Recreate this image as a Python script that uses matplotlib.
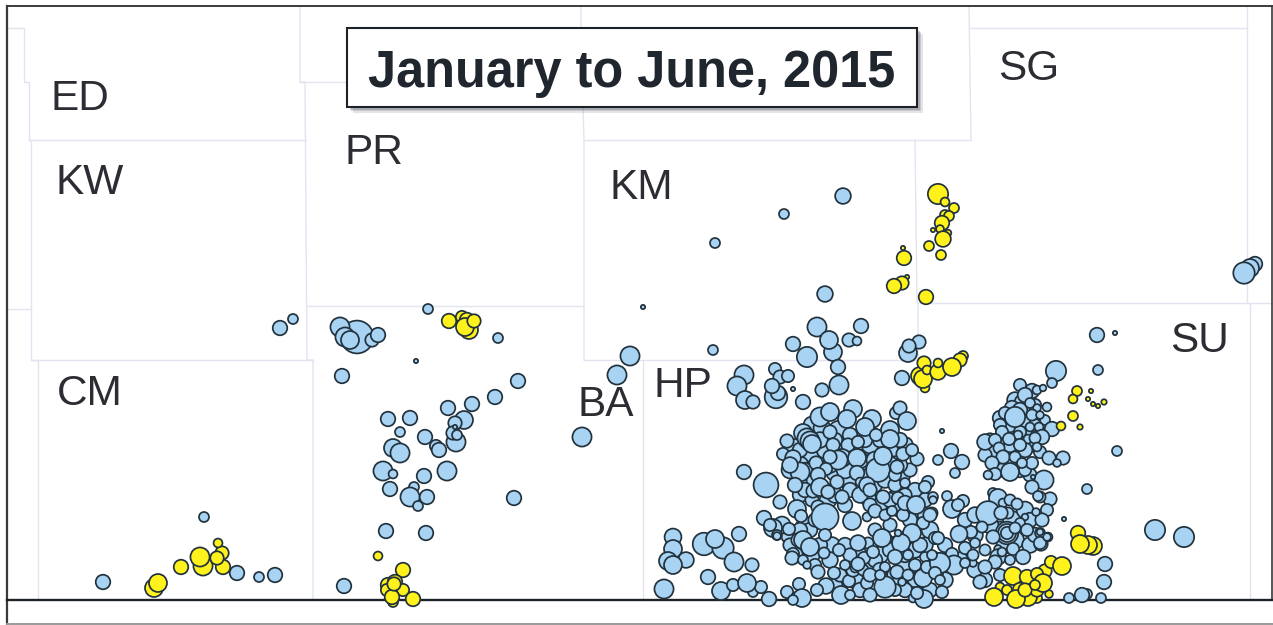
#!/usr/bin/env python3
# Bubble map of events by county, January to June 2015.
# Positions are in map units, y counts down from the top.

import matplotlib
matplotlib.use("Agg")
from matplotlib import pyplot as plt
from matplotlib import patheffects as pe
from matplotlib.patches import Rectangle

import numpy as np

plt.rcParams["font.family"] = ["Liberation Sans", "DejaVu Sans"]

TITLE = "January to June, 2015"

county_names = ["ED", "KW", "PR", "KM", "SG", "CM", "HP", "BA", "SU"]
county_x = [80, 90, 374, 641, 1029, 90, 683, 606, 1199]
county_y = [110, 194, 164, 199, 80, 405, 397, 416, 352]

# county boundaries, (x list, y list)
county_lines = [
    ([7, 24, 24, 29, 29, 31, 31, 38, 38], [28, 28, 82, 82, 140, 140, 360, 360, 600]),
    ([7, 31], [309, 309]),
    ([29, 306], [140, 140]),
    ([300, 300, 305, 307, 313, 313], [7, 82, 82, 360, 360, 600]),
    ([300, 347], [82, 82]),
    ([31, 313], [360, 360]),
    ([307, 584], [306, 306]),
    ([581, 581, 583, 584, 584], [7, 82, 108, 140, 360]),
    ([584, 971], [140, 140]),
    ([584, 917], [360, 360]),
    ([643, 643], [360, 600]),
    ([969, 971], [7, 140]),
    ([915, 917, 918, 918], [140, 303, 303, 600]),
    ([918, 1272], [303, 303]),
    ([969, 1247], [28, 28]),
    ([1247, 1247, 1250, 1250], [7, 303, 303, 600]),
]

blue_x = [
    795, 790, 812, 822, 838, 852, 868, 882, 894, 905,
    812, 822, 835, 848, 862, 872, 888, 902, 806, 800,
    828, 845, 868, 880, 895, 910, 910, 925, 845, 870,
    790, 782, 805, 795, 812, 832, 830, 845, 855, 870,
    880, 895, 905, 915, 925, 885, 895, 905, 915, 935,
    930, 945, 948, 945, 960, 975, 985, 965, 975, 1000,
    1012, 1025, 1015, 1030, 1005, 990, 1000, 975, 1030, 1035,
    1015, 1022, 1028, 1005, 1000, 995, 985, 1010, 1020, 1030,
    1040, 1010, 1025, 1015, 1002, 1035, 1020, 1045, 1030, 990,
    810, 800, 825, 845, 860, 870, 880, 895, 900, 835,
    820, 850, 865, 855, 830, 815, 835, 850, 860, 875,
    885, 895, 825, 805, 800, 875, 900, 890, 812, 805,
    885, 875, 890, 910, 920, 905, 890, 875, 860, 880,
    900, 915, 930, 905, 895, 860, 845, 835, 850, 840,
    810, 800, 815, 790, 820, 815, 925, 900, 890, 870,
    1025, 1035, 1010, 1020, 1000, 1010, 1025, 1040, 1000, 1025,
    280, 293, 204, 103, 237, 259, 275, 428, 357, 340,
    372, 345, 350, 378, 498, 416, 342, 630, 617, 518,
    495, 472, 448, 388, 410, 464, 456, 455, 400, 453,
    425, 457, 455, 436, 439, 393, 400, 447, 383, 393,
    424, 582, 390, 414, 410, 427, 418, 514, 386, 426,
    344, 843, 784, 715, 825, 643, 1255, 1250, 1244, 817,
    861, 793, 833, 829, 849, 857, 807, 838, 713, 919,
    908, 909, 902, 744, 737, 745, 753, 775, 780, 788,
    776, 778, 772, 793, 803, 822, 839, 820, 830, 853,
    847, 872, 865, 896, 900, 907, 890, 890, 876, 830,
    803, 807, 810, 812, 787, 783, 848, 858, 833, 842,
    838, 830, 857, 878, 883, 903, 917, 912, 793, 800,
    790, 816, 826, 818, 795, 813, 837, 857, 860, 842,
    820, 828, 867, 870, 883, 895, 897, 905, 928, 915,
    925, 905, 898, 933, 780, 766, 764, 744, 773, 777,
    797, 801, 818, 825, 852, 867, 875, 885, 892, 903,
    905, 916, 932, 923, 912, 882, 901, 868, 858, 898,
    935, 770, 789, 777, 825, 798, 803, 810, 793, 792,
    803, 807, 824, 839, 818, 834, 849, 853, 863, 864,
    855, 858, 873, 867, 885, 870, 841, 850, 826, 817,
    799, 787, 797, 802, 770, 897, 908, 915, 925, 937,
    923, 913, 924, 917, 902, 895, 885, 927, 908, 845,
    870, 880, 673, 673, 668, 686, 673, 664, 704, 723,
    715, 734, 739, 708, 721, 733, 753, 761, 747, 752,
    769, 793, 1097, 1115, 1098, 1056, 1052, 1117, 1087, 1064,
    1155, 1184, 1105, 1104, 1101, 1069, 1087, 1082, 942, 951,
    938, 962, 955, 947, 1032, 1025, 1037, 1043, 1012, 1020,
    1005, 1030, 1037, 1047, 1032, 1040, 1015, 1030, 1052, 1039,
    1002, 1018, 1009, 985, 995, 1028, 1042, 1035, 1020, 999,
    1037, 1003, 1015, 1032, 1022, 992, 995, 988, 1010, 1049,
    1063, 1057, 1044, 1032, 1033, 1050, 1040, 1047, 1042, 1048,
    1041, 1040, 1038, 952, 963, 958, 993, 998, 1003, 1010,
    1017, 988, 1008, 1001, 1025, 1020, 1036, 1007, 1007, 1007,
    982, 971, 959, 1027, 1015, 993, 1040, 1047, 1040, 965,
    952, 985, 975, 998, 1013, 1023, 998, 995, 973, 985,
    954, 940, 935, 940, 942, 980, 938, 932, 933, 930,
    965, 973, 1010, 1002,
]
blue_y = [
    448, 470, 425, 428, 430, 442, 432, 446, 448, 445,
    458, 462, 472, 480, 472, 476, 472, 476, 482, 495,
    500, 505, 498, 505, 498, 470, 500, 515, 450, 455,
    535, 525, 525, 555, 555, 545, 560, 545, 580, 565,
    555, 545, 540, 550, 545, 580, 575, 565, 590, 560,
    530, 545, 560, 580, 560, 570, 580, 520, 515, 530,
    520, 510, 540, 545, 545, 525, 575, 535, 520, 535,
    400, 402, 412, 425, 418, 450, 455, 460, 470, 445,
    425, 435, 430, 448, 470, 405, 385, 420, 475, 440,
    452, 465, 450, 470, 460, 445, 440, 470, 440, 440,
    440, 435, 440, 455, 465, 480, 495, 490, 495, 485,
    480, 485, 490, 470, 450, 460, 465, 465, 500, 490,
    540, 530, 525, 520, 545, 555, 550, 560, 555, 570,
    580, 580, 590, 590, 590, 590, 580, 585, 555, 575,
    530, 530, 520, 545, 545, 565, 500, 510, 500, 505,
    420, 425, 425, 432, 425, 445, 450, 452, 440, 470,
    328, 319, 517, 582, 573, 577, 575, 309, 337, 327,
    340, 337, 340, 335, 338, 361, 376, 356, 375, 381,
    397, 404, 408, 419, 418, 420, 442, 423, 432, 433,
    437, 435, 427, 446, 450, 448, 453, 471, 471, 474,
    476, 437, 489, 487, 497, 497, 506, 498, 531, 533,
    586, 196, 214, 243, 294, 307, 264, 268, 273, 327,
    326, 344, 352, 340, 340, 341, 357, 367, 350, 342,
    353, 346, 378, 375, 386, 400, 402, 369, 377, 376,
    397, 393, 386, 389, 402, 390, 385, 417, 412, 409,
    419, 419, 427, 413, 408, 421, 430, 439, 435, 432,
    433, 438, 441, 444, 441, 454, 445, 442, 445, 458,
    460, 457, 458, 470, 456, 454, 459, 450, 458, 472,
    465, 463, 469, 475, 485, 491, 482, 473, 482, 497,
    487, 492, 485, 490, 497, 475, 467, 483, 482, 490,
    487, 495, 498, 497, 502, 485, 518, 472, 528, 535,
    509, 516, 507, 517, 521, 517, 511, 515, 511, 515,
    503, 505, 513, 523, 533, 538, 543, 543, 543, 533,
    538, 525, 529, 536, 535, 540, 540, 547, 554, 558,
    560, 565, 553, 550, 572, 573, 581, 570, 570, 558,
    568, 564, 552, 583, 587, 595, 595, 595, 586, 590,
    584, 592, 598, 598, 599, 572, 575, 565, 557, 573,
    578, 598, 599, 593, 582, 557, 567, 567, 555, 565,
    575, 575, 537, 549, 561, 560, 565, 589, 544, 548,
    539, 562, 534, 577, 591, 585, 592, 587, 583, 565,
    599, 600, 335, 333, 370, 371, 383, 451, 489, 519,
    530, 537, 564, 582, 598, 598, 594, 595, 431, 451,
    460, 462, 473, 496, 391, 395, 390, 388, 408, 410,
    413, 403, 408, 407, 415, 415, 417, 427, 429, 427,
    432, 435, 439, 442, 440, 439, 437, 438, 445, 448,
    447, 457, 457, 463, 463, 463, 474, 475, 472, 458,
    458, 463, 480, 487, 477, 499, 497, 510, 520, 537,
    544, 533, 496, 509, 501, 505, 493, 498, 503, 500,
    504, 513, 513, 513, 517, 523, 512, 533, 533, 533,
    527, 532, 534, 530, 528, 537, 543, 537, 532, 548,
    554, 550, 543, 549, 549, 557, 557, 562, 563, 567,
    565, 563, 573, 580, 592, 582, 538, 555, 500, 515,
    563, 555, 560, 552,
]
blue_d = [
    17, 16, 16, 16, 17, 17, 16, 17, 16, 15,
    17, 18, 17, 17, 17, 18, 16, 15, 16, 14,
    16, 14, 15, 14, 15, 13, 15, 14, 17, 18,
    17, 16, 16, 15, 15, 15, 15, 14, 16, 16,
    16, 16, 16, 15, 15, 16, 15, 15, 15, 15,
    16, 14, 15, 15, 15, 15, 14, 14, 15, 16,
    17, 16, 17, 15, 16, 16, 12, 15, 14, 14,
    15, 14, 14, 15, 14, 15, 13, 14, 14, 14,
    12, 15, 14, 14, 13, 12, 12, 10, 13, 13,
    18, 16, 16, 16, 16, 16, 14, 14, 14, 14,
    15, 14, 14, 14, 15, 16, 15, 14, 15, 14,
    15, 13, 14, 14, 14, 16, 14, 16, 13, 14,
    14, 13, 13, 14, 14, 14, 14, 14, 14, 14,
    14, 14, 14, 14, 12, 14, 14, 14, 13, 13,
    14, 14, 13, 13, 14, 12, 14, 14, 14, 13,
    14, 12, 14, 12, 12, 14, 14, 12, 12, 12,
    14, 10, 10, 14, 14, 10, 14, 10, 30, 18,
    13, 18, 17, 14, 10, 5, 14, 18, 18, 14,
    14, 14, 14, 14, 14, 17, 18, 13, 10, 13,
    14, 10, 5, 12, 14, 17, 18, 18, 18, 9,
    14, 18, 14, 10, 18, 14, 10, 14, 14, 14,
    14, 15, 10, 10, 15, 5, 14, 17, 20, 18,
    14, 14, 17, 17, 13, 9, 19, 14, 10, 13,
    17, 13, 14, 18, 18, 17, 13, 12, 13, 12,
    21, 14, 14, 5, 14, 13, 18, 18, 17, 17,
    17, 17, 17, 12, 13, 17, 17, 17, 12, 13,
    17, 18, 18, 17, 13, 12, 13, 12, 13, 17,
    18, 13, 17, 22, 17, 13, 13, 12, 15, 18,
    15, 13, 12, 14, 14, 13, 13, 14, 9, 13,
    17, 13, 15, 13, 13, 12, 13, 10, 12, 14,
    12, 13, 12, 10, 13, 23, 14, 14, 17, 10,
    17, 12, 13, 25, 17, 9, 13, 11, 10, 12,
    14, 17, 11, 12, 17, 17, 17, 11, 15, 7,
    12, 12, 12, 8, 12, 13, 17, 17, 12, 13,
    10, 8, 11, 12, 13, 12, 12, 13, 11, 12,
    9, 13, 12, 12, 20, 13, 17, 10, 15, 12,
    12, 12, 12, 17, 12, 13, 11, 12, 10, 12,
    17, 9, 17, 12, 8, 14, 10, 12, 10, 10,
    13, 10, 16, 17, 17, 15, 17, 18, 21, 20,
    17, 18, 14, 14, 17, 12, 10, 12, 17, 13,
    14, 10, 14, 5, 10, 19, 10, 10, 10, 5,
    19, 19, 14, 14, 10, 10, 10, 14, 5, 14,
    10, 14, 10, 10, 14, 14, 9, 7, 14, 14,
    12, 10, 8, 9, 11, 8, 19, 9, 14, 9,
    12, 9, 12, 15, 12, 9, 14, 11, 12, 11,
    9, 13, 11, 12, 10, 13, 12, 9, 17, 13,
    13, 8, 18, 13, 5, 13, 11, 12, 13, 9,
    13, 10, 10, 17, 12, 12, 10, 17, 9, 11,
    11, 22, 11, 13, 7, 10, 8, 21, 17, 12,
    11, 12, 16, 12, 11, 13, 12, 8, 7, 12,
    12, 11, 10, 8, 12, 14, 15, 13, 8, 13,
    18, 19, 12, 10, 12, 13, 12, 10, 8, 13,
    10, 11, 10, 9,
]

yellow_x = [
    154, 158, 181, 203, 200, 223, 222, 217, 218,
    449, 462, 467, 469, 465, 474,
    378, 403, 388, 395, 387, 403, 393, 392, 394, 413,
    938, 945, 954, 945, 949, 942, 933, 940, 948, 943,
    929, 941, 903, 904, 907, 902, 894, 926,
    925, 920, 924, 923, 927, 938, 938, 963, 960, 952,
    1077, 1073, 1091, 1088, 1093, 1098, 1104, 1073, 1080, 1061,
    1078, 1093, 1088, 1080,
    1000, 1007, 1045, 1051, 1062, 1013, 994, 1020, 1037, 1027,
    1037, 1028, 1016, 1049, 1037, 1043, 1025, 1035,
]
yellow_y = [
    588, 583, 567, 566, 557, 567, 553, 558, 543,
    321, 317, 320, 330, 327, 321,
    556, 570, 585, 582, 590, 590, 602, 597, 584, 599,
    194, 202, 208, 215, 216, 223, 230, 229, 233, 239,
    246, 255, 248, 258, 277, 283, 286, 297,
    388, 376, 363, 379, 370, 372, 363, 356, 360, 367,
    391, 399, 391, 399, 404, 406, 402, 416, 427, 426,
    533, 546, 545, 544,
    587, 590, 571, 562, 566, 576, 597, 590, 598, 577,
    574, 597, 599, 594, 590, 583, 590, 585,
]
yellow_d = [
    17, 17, 14, 18, 18, 14, 13, 13, 9,
    14, 12, 14, 17, 17, 13,
    9, 14, 14, 14, 12, 12, 10, 14, 13, 14,
    19, 9, 10, 10, 10, 14, 5, 8, 7, 15,
    10, 10, 5, 14, 5, 13, 14, 14,
    9, 17, 13, 17, 9, 15, 9, 10, 13, 17,
    10, 9, 5, 5, 5, 5, 6, 10, 6, 9,
    14, 17, 17, 17,
    9, 10, 13, 12, 17, 17, 17, 14, 10, 14,
    12, 17, 17, 8, 13, 17, 13, 10,
]

EDGE = "#22323d"
EDGE_LW = 1.25
DPI = 100


def bubble_size(d):
    # width in px to scatter area; the scan runs a little wider than read
    return (np.array(d) * 1.14 * 72.0 / DPI - EDGE_LW * 0.8) ** 2


def main():
    fig = plt.figure(figsize=(12.73, 6.25), dpi=DPI)
    ax = fig.add_axes([0, 0, 1, 1])
    ax.set_xlim(0, 1273)
    ax.set_ylim(625, 0)
    ax.axis("off")

    for lx, ly in county_lines:
        ax.plot(lx, ly, color="#e2e4f1", lw=1.0, zorder=1)

    # frame and base line
    ax.plot([7, 7], [6, 625], color="#3a3a3a", lw=1.6, zorder=2)
    ax.plot([7, 1272], [6, 6], color="#3a3a3a", lw=1.4, zorder=2)
    ax.plot([1272, 1272], [6, 600], color="#3a3a3a", lw=1.2, zorder=2)
    ax.plot([7, 1273], [600, 600], color="#1c2228", lw=1.7, zorder=2)
    ax.plot([7, 1273], [624, 624], color="#9a9a9a", lw=1.4, zorder=2)

    ax.scatter(blue_x, blue_y, s=bubble_size(blue_d), color="#a8d3f3",
               edgecolor=EDGE, linewidth=EDGE_LW, zorder=3)
    ax.scatter(yellow_x, yellow_y, s=bubble_size(yellow_d), color="#fff21c",
               edgecolor=EDGE, linewidth=EDGE_LW, zorder=4)

    for name, x, y in zip(county_names, county_x, county_y):
        ax.text(x, y, name, fontsize=30.5, color="#2b2d33", ha="center",
                va="baseline", zorder=5)

    box = Rectangle((347, 28), 570, 79, facecolor="white", edgecolor="#1c2228",
                    linewidth=1.5, zorder=6)
    box.set_path_effects([
        pe.SimplePatchShadow(offset=(4, -4), shadow_rgbFace="#555566", alpha=0.15),
        pe.SimplePatchShadow(offset=(3, -3), shadow_rgbFace="#555566", alpha=0.2),
        pe.SimplePatchShadow(offset=(2, -2), shadow_rgbFace="#555566", alpha=0.25),
        pe.Normal(),
    ])
    ax.add_patch(box)
    ax.text(631.5, 87.5, TITLE, fontsize=36.4, fontweight="bold", color="#20262d",
            ha="center", va="baseline", zorder=7)

    fig.savefig("out.png", dpi=DPI)
    plt.close(fig)


if __name__ == "__main__":
    main()
